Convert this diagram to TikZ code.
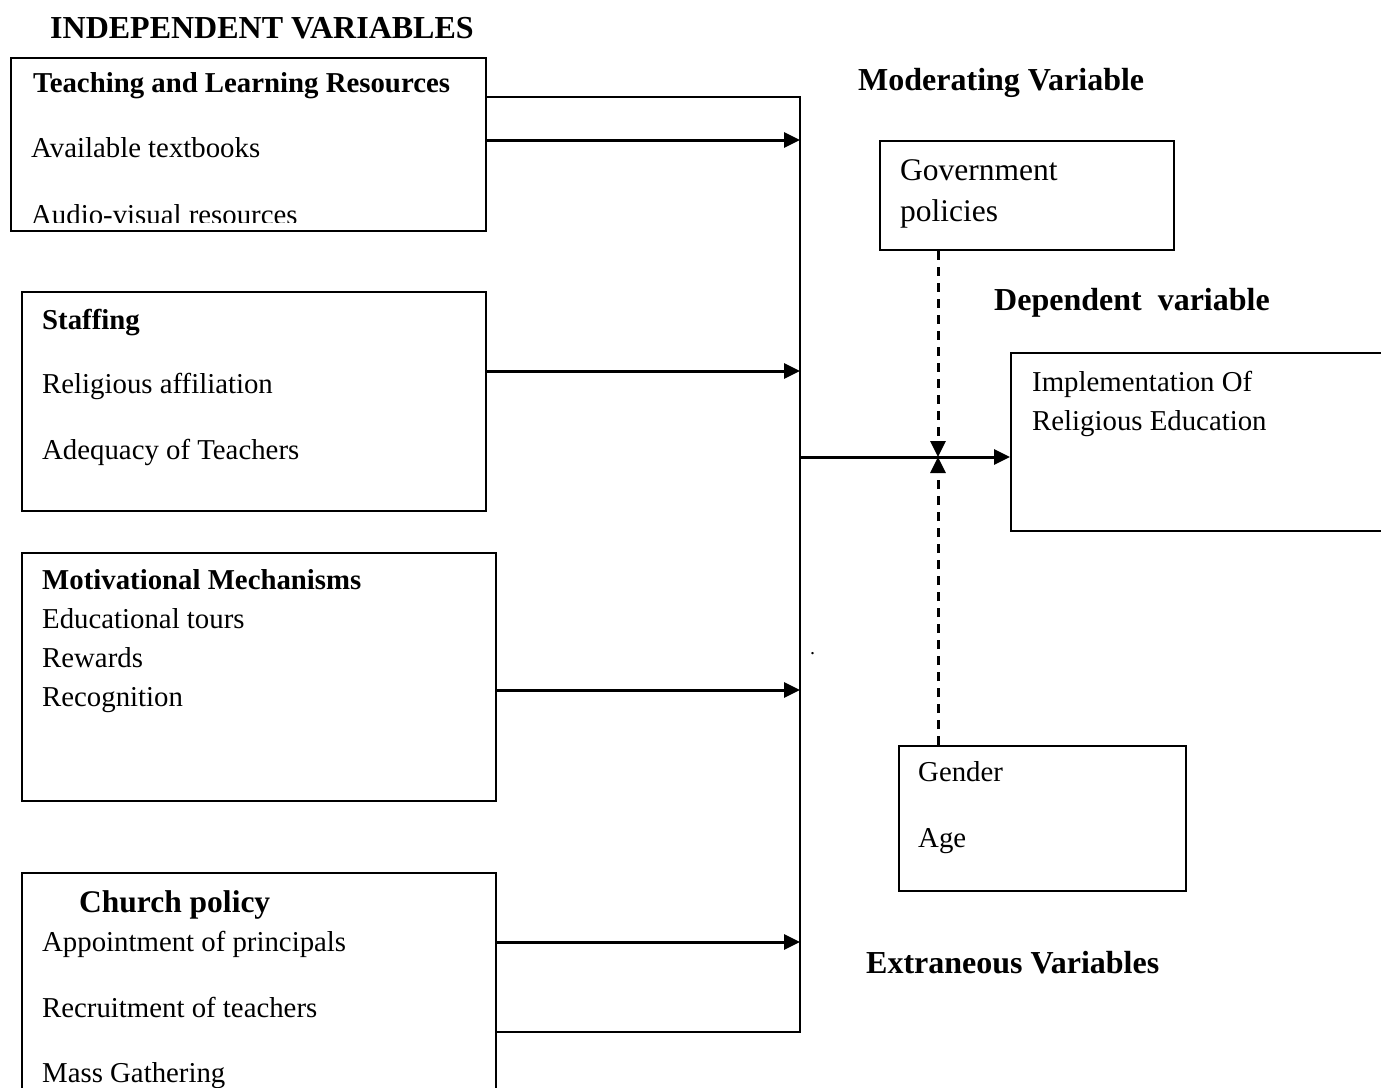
\documentclass[tikz,border=0pt]{standalone}
\usepackage{fontspec}
\setmainfont{Liberation Serif}
\usetikzlibrary{arrows.meta}
\newcommand\mybody{\fontsize{28.8}{34}\selectfont}
\newcommand\mytitle{\fontsize{32}{38}\selectfont\bfseries}
\newcommand\myhead{\fontsize{28.8}{34}\selectfont\bfseries}
\begin{document}
\begin{tikzpicture}[x=1pt,y=-1pt,
  box/.style={draw, line width=2.2pt, inner sep=0pt, anchor=north west},
  lbl/.style={anchor=base west, inner sep=0pt, font=\mybody},
  hd/.style={anchor=base west, inner sep=0pt, font=\myhead},
  ttl/.style={anchor=base west, inner sep=0pt, font=\mytitle},
  conn/.style={line width=3pt},
  bracket/.style={line width=2.4pt, line cap=rect},
  arr/.style={-{Triangle[length=16pt,width=15pt]}},
  dsh/.style={line width=3pt, dash pattern=on 9pt off 7pt}]
\clip (0,0) rectangle (1381,1087);
\fill[white] (0,0) rectangle (1381,1087);

% boxes
\node[box, minimum width=475pt, minimum height=173pt] (tlr) at (10,57) {};
\node[box, minimum width=464pt, minimum height=219pt] (staff) at (21,291) {};
\node[box, minimum width=474pt, minimum height=248pt] (motiv) at (21,552) {};
\node[box, minimum width=474pt, minimum height=260pt] (church) at (21,872) {};
\node[box, minimum width=294pt, minimum height=109pt] (gov) at (879,140) {};
\node[box, minimum width=400pt, minimum height=178pt] (dep) at (1010,352) {};
\node[box, minimum width=287pt, minimum height=145pt] (ext) at (898,745) {};

% titles
\node[ttl] (tIndep) at (50,38) {INDEPENDENT VARIABLES};
\node[ttl] (tMod) at (858,90) {Moderating Variable};
\node[ttl] (tDep) at (994,310) {Dependent\ \ variable};
\node[ttl] (tExt) at (866,973) {Extraneous Variables};

% box 1
\node[hd] (h1) at (33,92) {Teaching and Learning Resources};
\node[lbl] (l11) at (31,157) {Available textbooks};
\begin{scope}
  \clip (10,57) rectangle (485,222);
  \node[lbl] (l12) at (31,224) {Audio-visual resources};
\end{scope}

% box 2
\node[hd] (h2) at (42,329) {Staffing};
\node[lbl] (l21) at (42,393) {Religious affiliation};
\node[lbl] (l22) at (42,459) {Adequacy of Teachers};

% box 3
\node[hd] (h3) at (42,589) {Motivational Mechanisms};
\node[lbl] (l31) at (42,628) {Educational tours};
\node[lbl] (l32) at (42,667) {Rewards};
\node[lbl] (l33) at (42,706) {Recognition};

% box 4
\node[anchor=base west, inner sep=0pt, font=\fontsize{31.5}{38}\selectfont\bfseries] (h4) at (79,912) {Church policy};
\node[lbl] (l41) at (42,951) {Appointment of principals};
\node[lbl] (l42) at (42,1017) {Recruitment of teachers};
\node[lbl] (l43) at (42,1082) {Mass Gathering};

% right boxes
\node[anchor=base west, inner sep=0pt, font=\fontsize{31.5}{38}\selectfont] (g1) at (900,180) {Government};
\node[anchor=base west, inner sep=0pt, font=\fontsize{31.5}{38}\selectfont] (g2) at (900,221) {policies};
\node[lbl] (d1) at (1032,391) {Implementation Of};
\node[lbl] (d2) at (1032,430) {Religious Education};
\node[lbl] (e1) at (918,781) {Gender};
\node[lbl] (e2) at (918,847) {Age};
\node[anchor=base west, inner sep=0pt, font=\fontsize{20}{24}\selectfont] (dot) at (810,654) {.};

% connectors
\coordinate (jt) at (800,97);
\coordinate (jb) at (800,1032);
\coordinate (j1) at (800,140);
\coordinate (j2) at (800,371);
\coordinate (j3) at (800,690);
\coordinate (j4) at (800,942);
\coordinate (jm) at (800,457);
\coordinate (cross) at (938,457);

\draw[bracket] (tlr.east |- jt) -- (jt) -- (jb) -- (church.east |- jb);
\draw[conn,arr] (tlr.east |- j1) -- (j1);
\draw[conn,arr] (staff.east |- j2) -- (j2);
\draw[conn,arr] (motiv.east |- j3) -- (j3);
\draw[conn,arr] (church.east |- j4) -- (j4);
\draw[conn,arr] (jm) -- (dep.west |- jm);
\draw[dsh,arr] (cross |- gov.south) -- (cross);
\draw[dsh,arr] (cross |- ext.north) -- (cross);
\end{tikzpicture}
\end{document}
